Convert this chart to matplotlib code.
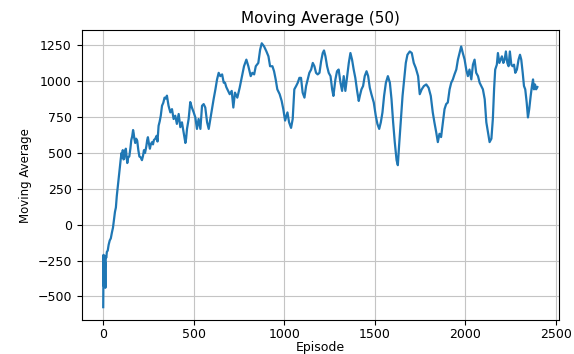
import matplotlib
matplotlib.use("Agg")
import matplotlib.pyplot as plt

# valeurs (episode, moyenne mobile sur 50)
episodes = [0, 2, 4, 6, 8, 10, 12, 14, 17, 20, 25, 30, 36, 42, 48, 54, 60, 65, 70, 75,
            80, 86, 92, 97, 101, 105, 108, 112, 116, 120, 125, 129, 133, 138, 144, 150, 155, 160, 165, 168,
            172, 177, 182, 188, 194, 200, 207, 214, 220, 225, 231, 238, 243, 247, 252, 258, 263, 269, 275, 280,
            288, 295, 300, 306, 312, 318, 325, 332, 339, 346, 352, 357, 361, 371, 380, 389, 398, 407, 417, 426,
            435, 444, 450, 454, 458, 463, 472, 481, 490, 500, 509, 518, 527, 537, 546, 555, 564, 574, 583, 592,
            601, 610, 620, 629, 638, 647, 657, 666, 673, 680, 686, 699, 710, 719, 728, 741, 754, 765, 778, 791,
            802, 815, 824, 834, 843, 857, 867, 876, 889, 902, 913, 922, 935, 944, 953, 962, 975, 986, 995, 1005,
            1018, 1027, 1038, 1047, 1056, 1066, 1075, 1084, 1093, 1102, 1112, 1121, 1130, 1139, 1149, 1158, 1167, 1176, 1185, 1195,
            1204, 1213, 1220, 1228, 1237, 1246, 1256, 1265, 1272, 1283, 1292, 1301, 1311, 1320, 1329, 1338, 1348, 1357, 1366, 1375,
            1384, 1393, 1403, 1412, 1418, 1427, 1436, 1445, 1455, 1464, 1473, 1482, 1495, 1506, 1515, 1525, 1534, 1543, 1552, 1562,
            1573, 1584, 1593, 1602, 1611, 1621, 1628, 1635, 1645, 1654, 1663, 1672, 1681, 1694, 1705, 1716, 1727, 1740, 1749, 1760,
            1772, 1785, 1798, 1810, 1821, 1830, 1840, 1849, 1858, 1867, 1877, 1886, 1895, 1904, 1914, 1923, 1932, 1941, 1951, 1960,
            1969, 1978, 1987, 1997, 2006, 2015, 2024, 2034, 2043, 2052, 2061, 2071, 2080, 2089, 2098, 2108, 2117, 2126, 2135, 2145,
            2153, 2160, 2166, 2175, 2181, 2189, 2196, 2203, 2211, 2218, 2225, 2233, 2240, 2247, 2255, 2262, 2270, 2277, 2286, 2295,
            2303, 2310, 2318, 2325, 2332, 2340, 2347, 2354, 2362, 2369, 2375, 2380, 2386, 2392, 2399]

moving_avg = [-575, -210, -430, -220, -400, -260, -440, -220, -230, -190, -180, -140, -110, -95, -55, -20, 40, 90, 120, 200,
              260, 330, 400, 460, 500, 470, 520, 455, 460, 510, 530, 480, 430, 470, 475, 530, 590, 615, 660, 640,
              600, 570, 600, 585, 520, 475, 470, 450, 480, 520, 500, 545, 590, 610, 570, 530, 560, 575, 560, 590,
              600, 620, 580, 690, 720, 760, 830, 850, 886, 880, 900, 860, 829, 783, 806, 737, 760, 703, 772, 680,
              714, 645, 600, 570, 600, 668, 737, 855, 817, 783, 748, 668, 737, 668, 829, 841, 817, 714, 668, 737,
              806, 875, 944, 1013, 1059, 1036, 1048, 990, 990, 960, 944, 910, 933, 817, 921, 886, 955, 1024, 1105, 1151,
              1105, 1036, 1059, 1048, 1105, 1128, 1220, 1265, 1243, 1208, 1174, 1105, 1105, 1070, 1013, 944, 910, 863, 806, 726,
              783, 714, 675, 737, 944, 967, 990, 1024, 1024, 921, 886, 967, 1013, 1059, 1082, 1128, 1105, 1059, 1048, 1059,
              1139, 1197, 1215, 1174, 1105, 1059, 1036, 944, 898, 1013, 1070, 1082, 990, 933, 1036, 933, 1036, 1128, 1197, 1151,
              1082, 1024, 933, 863, 898, 944, 967, 1036, 1070, 1036, 955, 910, 852, 760, 703, 668, 714, 783, 898, 990,
              1036, 990, 875, 714, 576, 450, 415, 553, 737, 898, 1013, 1128, 1185, 1208, 1197, 1128, 1093, 1036, 910, 944,
              967, 978, 955, 898, 783, 714, 645, 576, 634, 611, 714, 806, 841, 852, 944, 990, 1013, 1048, 1082, 1151,
              1197, 1243, 1197, 1151, 1082, 1036, 1082, 1013, 1116, 1151, 1059, 1036, 990, 967, 944, 875, 714, 645, 576, 600,
              737, 950, 1082, 1116, 1197, 1128, 1151, 1174, 1128, 1151, 1208, 1128, 1105, 1208, 1116, 1105, 1116, 1059, 1082, 1151,
              1185, 1151, 1059, 967, 944, 852, 748, 806, 898, 967, 1013, 944, 978, 944, 960]

plt.figure(figsize=(5.74, 3.54), dpi=100)
plt.subplots_adjust(left=0.142, right=0.974, top=0.915, bottom=0.095)

plt.plot(episodes, moving_avg, color='#1f77b4', linewidth=1.6)
plt.grid(color='#c4c4c4')

plt.title("Moving Average (50)", fontsize=11, pad=5)
plt.xlabel("Episode", fontsize=9, labelpad=0)
plt.ylabel("Moving Average", fontsize=8.5)
plt.tick_params(axis='x', labelsize=9, pad=2)
plt.tick_params(axis='y', labelsize=9)

plt.savefig("out.png", dpi=100)
